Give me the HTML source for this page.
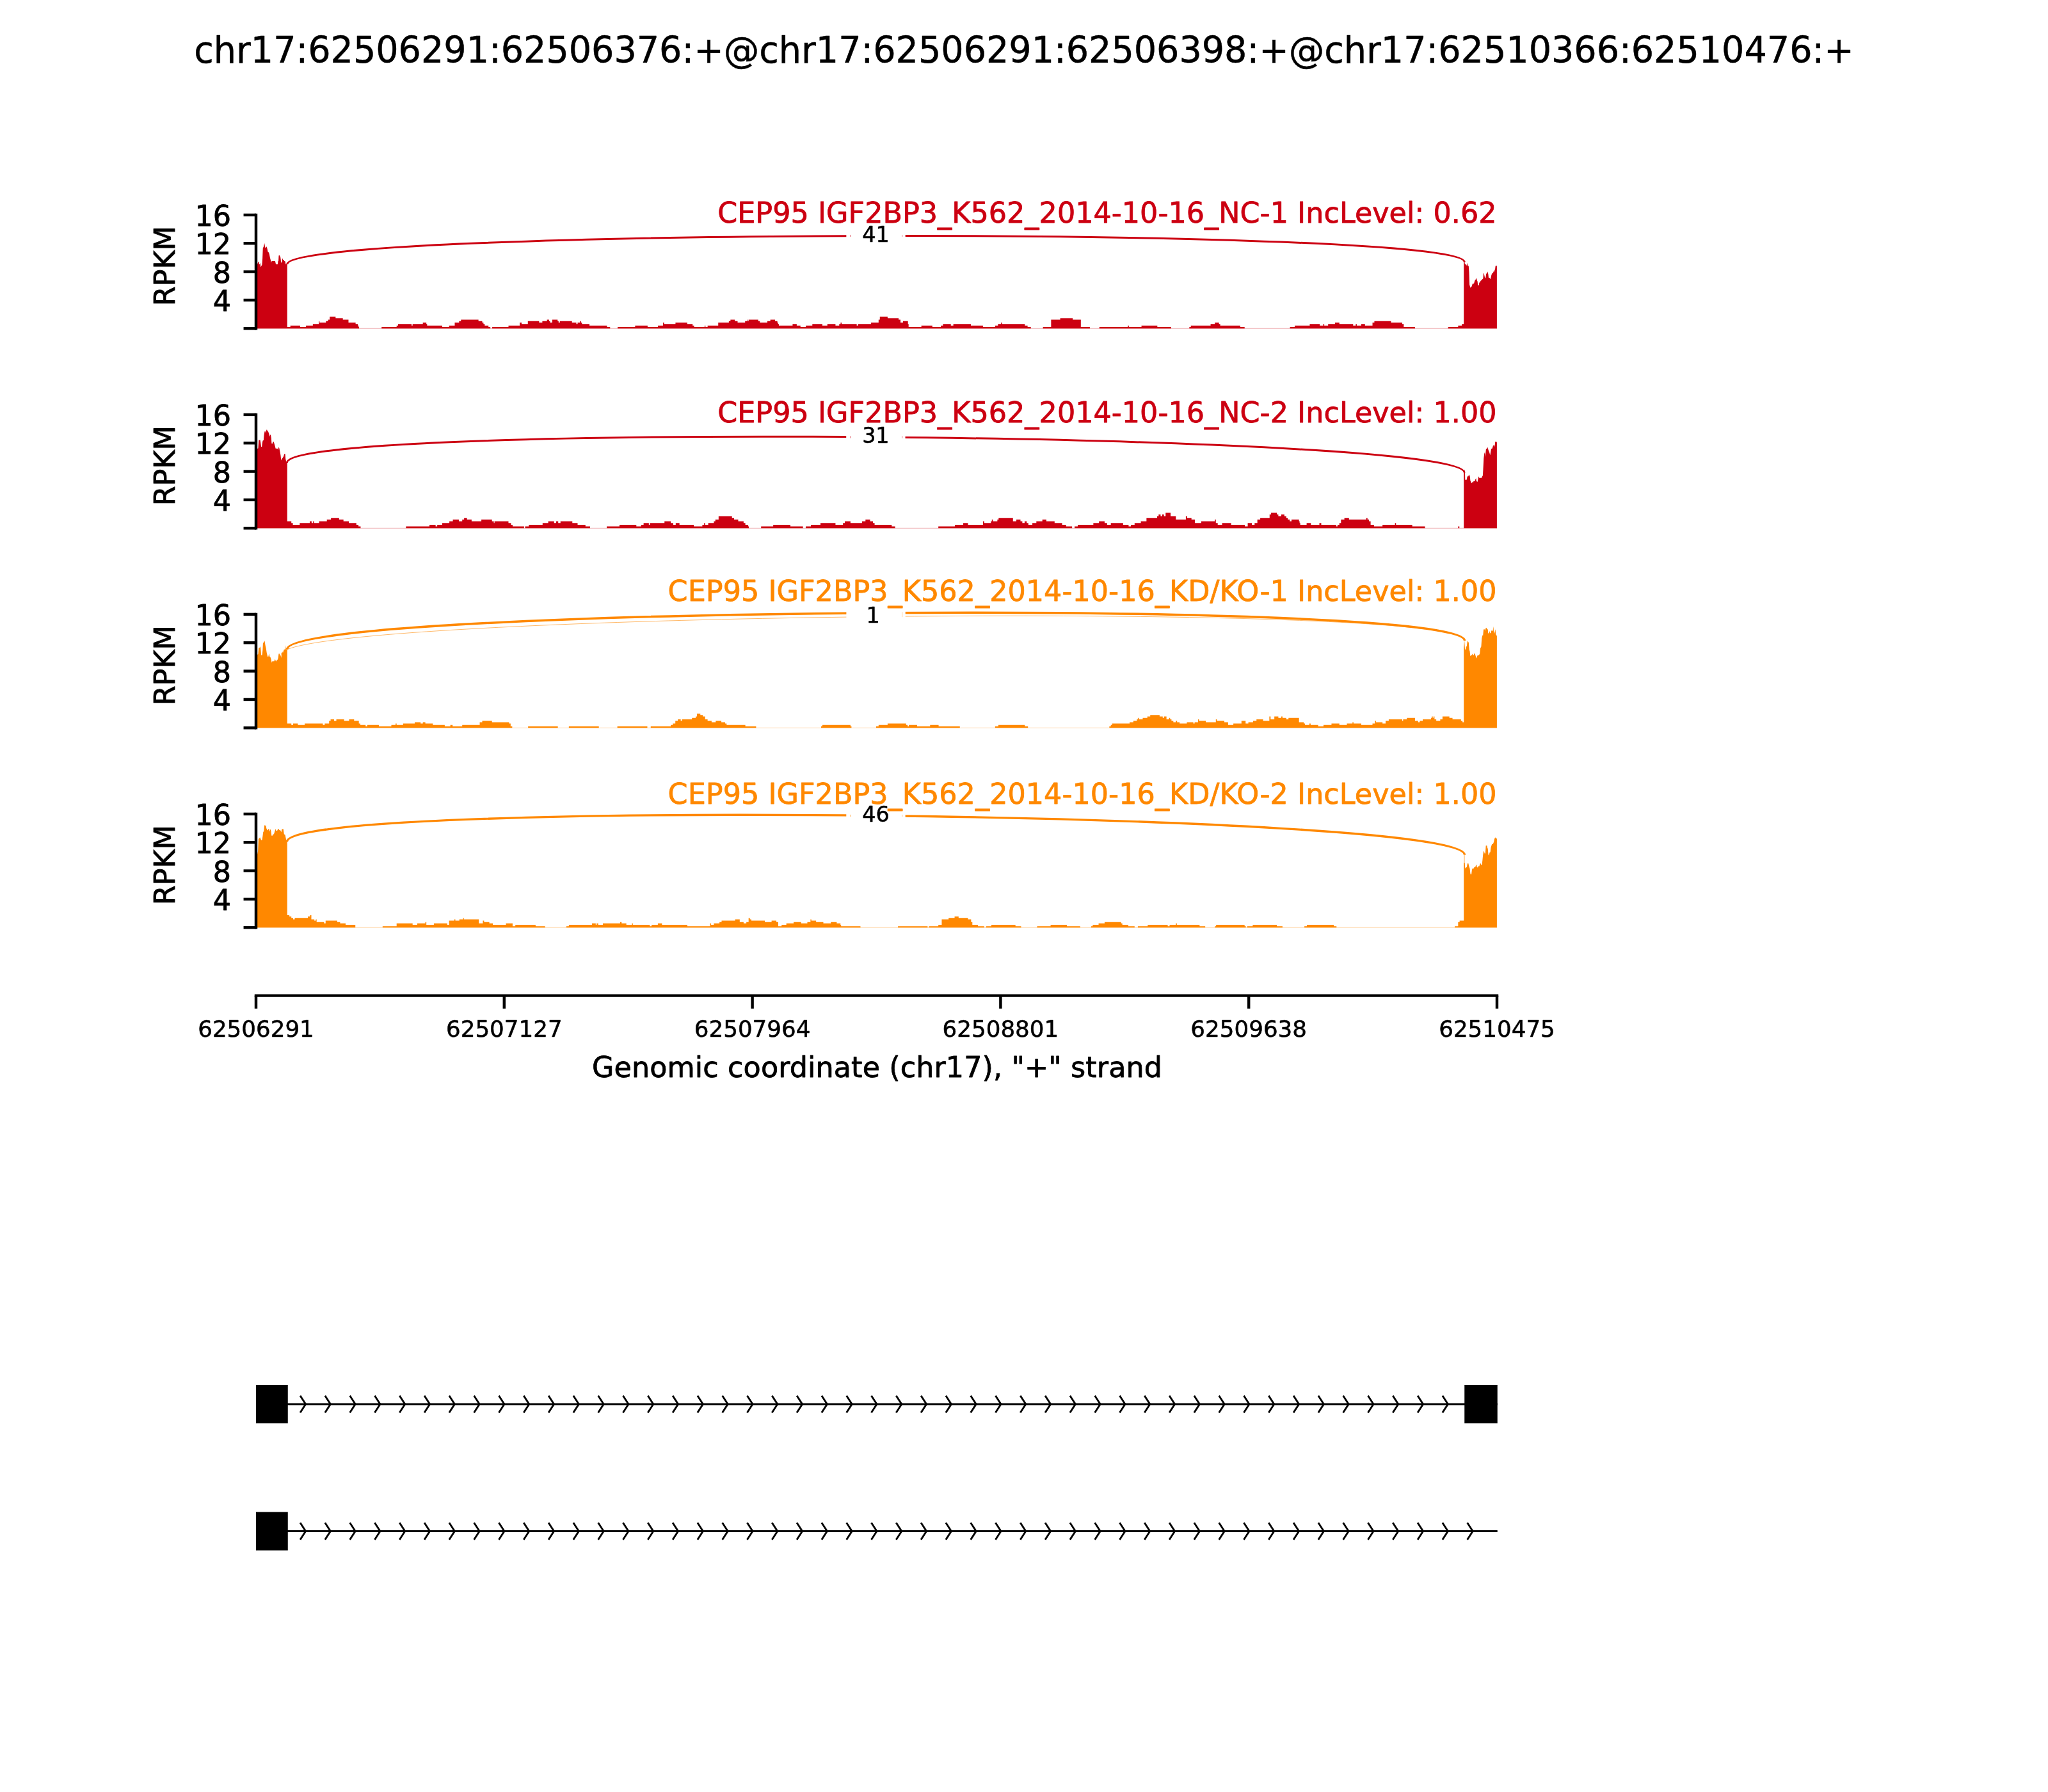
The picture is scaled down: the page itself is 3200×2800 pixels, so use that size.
<!DOCTYPE html>
<html><head><meta charset="utf-8"><title>Sashimi plot</title>
<style>html,body{margin:0;padding:0;background:#fff}svg{display:block}svg{will-change:transform}text{font-family:'DejaVu Sans','Liberation Sans',sans-serif;}</style></head><body>
<svg width="3200" height="2800" viewBox="0 0 3200 2800">
<rect width="3200" height="2800" fill="#fff"/>
<text transform="translate(1600 98) scale(1 1.02)" font-size="55.56" text-anchor="middle" fill="#000" stroke="#000" stroke-width="0.5" stroke-linejoin="round">chr17:62506291:62506376:+@chr17:62506291:62506398:+@chr17:62510366:62510476:+</text>
<g>
<path d="M400 513.3 L400 412.68 L402.05 412.68 L403.39 409.55 L404.51 408.44 L404.96 412.9 L405.85 412.9 L406.52 410.45 L407.41 417.59 L408.3 415.8 L409.42 413.57 L410.09 404.64 L410.76 387.68 L411.88 385.45 L413.21 380.09 L414.33 386.79 L415.67 387.01 L416.56 385 L417.68 389.02 L418.57 393.48 L419.91 394.38 L420.8 397.05 L421.92 402.86 L423.26 407.77 L423.48 410.45 L424.6 407.99 L429.96 407.99 L431.07 412.9 L433.97 412.9 L434.42 408.21 L435.09 407.77 L435.54 399.29 L436.88 399.06 L438.21 401.96 L439.33 410.45 L440.45 410 L441.34 403.3 L442.23 405.98 L443.57 406.21 L444.24 407.99 L445.58 408.21 L446.47 412.9 L448.57 412.9 L448.8 412.9 L448.79 510.99 L453.67 510.99 L453.67 508.68 L468.91 508.68 L468.91 510.99 L478.09 510.99 L478.09 508.68 L488.83 508.68 L488.83 506.37 L498.2 506.37 L498.2 501.75 L499.18 501.75 L499.18 504.06 L509.34 504.06 L509.34 501.75 L512.66 501.75 L512.66 499.44 L515.2 499.44 L515.2 494.82 L524.38 494.82 L524.38 497.13 L535.7 497.13 L535.7 499.44 L544.49 499.44 L544.49 504.06 L555.62 504.06 L555.62 506.37 L559.14 506.37 L559.14 508.68 L560.31 508.68 L560.31 510.99 L561.09 510.99 L561.09 513.3 L596.25 513.3 L596.25 510.99 L619.69 510.99 L619.69 508.68 L622.03 508.68 L622.03 506.37 L643.12 506.37 L643.12 508.68 L644.69 508.68 L644.69 506.37 L660.7 506.37 L660.7 504.06 L666.17 504.06 L666.17 506.37 L667.34 506.37 L667.34 508.68 L690.98 508.68 L690.98 510.99 L701.72 510.99 L701.72 508.68 L710.51 508.68 L710.51 504.06 L717.34 504.06 L717.34 501.75 L720.27 501.75 L720.27 499.44 L747.62 499.44 L747.62 501.75 L753.48 501.75 L753.48 504.06 L755.43 504.06 L755.43 506.37 L757.38 506.37 L757.38 508.68 L763.24 508.68 L763.24 510.99 L766.17 510.99 L766.17 513.3 L769.1 513.3 L769.1 510.99 L794.49 510.99 L794.49 508.68 L812.07 508.68 L812.07 504.06 L815 504.06 L815 506.37 L824.77 506.37 L824.77 501.75 L840 501.75 L840 501.75 L842.34 501.75 L842.34 504.06 L847.42 504.06 L847.42 501.75 L854.65 501.75 L854.65 499.44 L857.97 499.44 L857.97 501.75 L859.53 501.75 L859.53 504.06 L862.85 504.06 L862.85 499.44 L871.25 499.44 L871.25 501.75 L872.81 501.75 L872.81 504.06 L874.77 504.06 L874.77 501.75 L893.71 501.75 L893.71 504.06 L900.55 504.06 L900.55 506.37 L902.5 506.37 L902.5 504.06 L906.41 504.06 L906.41 501.75 L907.97 501.75 L907.97 504.06 L909.34 504.06 L909.34 506.37 L921.05 506.37 L921.05 508.68 L948.4 508.68 L948.4 510.99 L953.28 510.99 L953.28 513.3 L965 513.3 L965 510.99 L992.34 510.99 L992.34 508.68 L1011.88 508.68 L1011.88 510.99 L1027.89 510.99 L1027.89 508.68 L1035.9 508.68 L1035.9 504.06 L1037.66 504.06 L1037.66 506.37 L1055.43 506.37 L1055.43 504.06 L1073.79 504.06 L1073.79 506.37 L1082.19 506.37 L1082.19 508.68 L1084.53 508.68 L1084.53 510.99 L1100.94 510.99 L1100.94 508.68 L1102.3 508.68 L1102.3 510.99 L1105.62 510.99 L1105.62 508.68 L1122.23 508.68 L1122.23 504.06 L1138.83 504.06 L1138.83 501.75 L1141.37 501.75 L1141.37 499.44 L1148.2 499.44 L1148.2 501.75 L1152.5 501.75 L1152.5 504.06 L1164.22 504.06 L1164.22 501.75 L1168.12 501.75 L1168.12 499.44 L1168.91 499.44 L1168.91 501.75 L1169.69 501.75 L1169.69 499.44 L1184.73 499.44 L1184.73 501.75 L1187.27 501.75 L1187.27 504.06 L1198.98 504.06 L1198.98 501.75 L1203.67 501.75 L1203.67 499.44 L1211.09 499.44 L1211.09 501.75 L1214.61 501.75 L1214.61 504.06 L1215.78 504.06 L1215.78 506.37 L1216.95 506.37 L1216.95 508.68 L1238.44 508.68 L1238.44 506.37 L1240 506.37 L1240 506.37 L1244.88 506.37 L1244.88 508.68 L1250.74 508.68 L1250.74 510.99 L1259.14 510.99 L1259.14 508.68 L1269.3 508.68 L1269.3 506.37 L1284.92 506.37 L1284.92 508.68 L1292.73 508.68 L1292.73 506.37 L1305.43 506.37 L1305.43 508.68 L1311.29 508.68 L1311.29 506.37 L1313.44 506.37 L1313.44 504.06 L1315 504.06 L1315 506.37 L1338.63 506.37 L1338.63 508.68 L1340.59 508.68 L1340.59 506.37 L1361.09 506.37 L1361.09 504.06 L1372.81 504.06 L1372.81 499.44 L1374.77 499.44 L1374.77 494.82 L1386.88 494.82 L1386.88 497.13 L1404.06 497.13 L1404.06 499.44 L1406.99 499.44 L1406.99 504.06 L1410.9 504.06 L1410.9 501.75 L1418.71 501.75 L1418.71 506.37 L1419.69 506.37 L1419.69 510.99 L1439.61 510.99 L1439.61 508.68 L1456.8 508.68 L1456.8 510.99 L1470.08 510.99 L1470.08 508.68 L1473.4 508.68 L1473.4 506.37 L1485.7 506.37 L1485.7 508.68 L1489.61 508.68 L1489.61 506.37 L1516.95 506.37 L1516.95 508.68 L1535.9 508.68 L1535.9 510.99 L1554.84 510.99 L1554.84 508.68 L1559.34 508.68 L1559.34 506.37 L1564.22 506.37 L1564.22 504.06 L1565.78 504.06 L1565.78 506.37 L1601.33 506.37 L1601.33 508.68 L1605.62 508.68 L1605.62 510.99 L1610.7 510.99 L1610.7 513.3 L1629.65 513.3 L1629.65 510.99 L1640 510.99 L1640 510.99 L1642.34 510.99 L1642.34 499.44 L1656.6 499.44 L1656.6 497.13 L1676.13 497.13 L1676.13 499.44 L1688.83 499.44 L1688.83 510.99 L1702.89 510.99 L1702.89 513.3 L1717.73 513.3 L1717.73 510.99 L1762.27 510.99 L1762.27 508.68 L1763.83 508.68 L1763.83 510.99 L1783.55 510.99 L1783.55 508.68 L1808.36 508.68 L1808.36 510.99 L1829.84 510.99 L1829.84 513.3 L1858.36 513.3 L1858.36 510.99 L1860.7 510.99 L1860.7 508.68 L1891.56 508.68 L1891.56 506.37 L1898.2 506.37 L1898.2 504.06 L1904.65 504.06 L1904.65 506.37 L1906.6 506.37 L1906.6 508.68 L1937.85 508.68 L1937.85 510.99 L1944.69 510.99 L1944.69 513.3 L1999.96 513.3 L2000 513.3 L2015.62 513.3 L2015.62 510.99 L2023.05 510.99 L2023.05 508.68 L2046.48 508.68 L2046.48 506.37 L2062.11 506.37 L2062.11 508.68 L2067.58 508.68 L2067.58 506.37 L2069.14 506.37 L2069.14 508.68 L2075.2 508.68 L2075.2 506.37 L2085.94 506.37 L2085.94 504.06 L2092.77 504.06 L2092.77 506.37 L2114.26 506.37 L2114.26 508.68 L2118.36 508.68 L2118.36 506.37 L2119.92 506.37 L2119.92 508.68 L2126.95 508.68 L2126.95 506.37 L2132.81 506.37 L2132.81 508.68 L2144.53 508.68 L2144.53 504.06 L2147.46 504.06 L2147.46 501.75 L2173.44 501.75 L2173.44 504.06 L2191.02 504.06 L2191.02 506.37 L2193.36 506.37 L2193.36 510.99 L2210.94 510.99 L2210.94 513.3 L2262.7 513.3 L2262.7 510.99 L2278.32 510.99 L2278.32 508.68 L2284.18 508.68 L2284.18 506.37 L2287.11 506.37 L2287.2 506.37 L2287.2 409.46 L2287.41 409.46 L2288.3 408.57 L2288.97 413.04 L2290.54 413.04 L2291.43 415.27 L2292.54 410.8 L2293.21 414.82 L2294.78 415.71 L2295.45 424.64 L2296.12 444.73 L2297.46 449.87 L2298.35 448.3 L2299.46 447.86 L2300.8 443.39 L2303.04 442.95 L2304.38 438.48 L2305.71 436.7 L2306.83 434.24 L2307.72 438.04 L2308.62 439.82 L2309.29 446.07 L2310.85 445.4 L2311.29 441.38 L2312.63 441.16 L2313.3 438.93 L2314.64 438.04 L2316.43 436.03 L2317.32 435.36 L2317.99 427.32 L2318.66 426.88 L2319.55 431.34 L2320.45 434.91 L2321.34 433.57 L2322.23 427.77 L2323.57 426.65 L2324.46 424.2 L2325.36 428.21 L2326.03 434.02 L2327.59 434.24 L2328.48 436.25 L2329.38 434.24 L2330.27 430 L2331.38 427.1 L2332.95 426.88 L2333.39 424.2 L2334.51 424.87 L2335.4 421.96 L2336.07 420.4 L2336.74 415.49 L2338.66 415.27 L2338.9 415.27 L2338.9 513.3Z" fill="#CC0011"/>
<line x1="400" y1="513.3" x2="2339" y2="513.3" stroke="#CC0011" stroke-width="0.7" opacity="0.45"/>
<path d="M448.7 412.9 C448.7 356 2288.3 352.6 2288.3 409.5" fill="none" stroke="#CC0011" stroke-width="3"/>
<rect x="1322.35" y="327.52" width="92.3" height="82" fill="#fff"/>
<text transform="translate(1368.5 378)" font-size="33.33" text-anchor="middle" fill="#000" stroke="#000" stroke-width="0.55" stroke-linejoin="round">41</text>
<rect x="1328.1" y="366.92" width="0.9" height="3.2" fill="#CC0011" opacity="0.6"/>
<rect x="1409.2" y="366.92" width="0.9" height="3.2" fill="#CC0011" opacity="0.6"/>
<line x1="400" y1="335.9" x2="400" y2="513.3" stroke="#000" stroke-width="4.44" stroke-linecap="square"/>
<line x1="380.56" y1="513.3" x2="400" y2="513.3" stroke="#000" stroke-width="4.44"/>
<line x1="380.56" y1="468.95" x2="400" y2="468.95" stroke="#000" stroke-width="4.44"/>
<text transform="translate(361.1 486.05) scale(1 0.98)" font-size="44.44" text-anchor="end" fill="#000" stroke="#000" stroke-width="0.8" stroke-linejoin="round">4</text>
<line x1="380.56" y1="424.6" x2="400" y2="424.6" stroke="#000" stroke-width="4.44"/>
<text transform="translate(361.1 441.7) scale(1 0.98)" font-size="44.44" text-anchor="end" fill="#000" stroke="#000" stroke-width="0.8" stroke-linejoin="round">8</text>
<line x1="380.56" y1="380.25" x2="400" y2="380.25" stroke="#000" stroke-width="4.44"/>
<text transform="translate(361.1 397.35) scale(1 0.98)" font-size="44.44" text-anchor="end" fill="#000" stroke="#000" stroke-width="0.8" stroke-linejoin="round">12</text>
<line x1="380.56" y1="335.9" x2="400" y2="335.9" stroke="#000" stroke-width="4.44"/>
<text transform="translate(361.1 353) scale(1 0.98)" font-size="44.44" text-anchor="end" fill="#000" stroke="#000" stroke-width="0.8" stroke-linejoin="round">16</text>
<text transform="translate(273 415.7) rotate(-90)" font-size="44.44" text-anchor="middle" fill="#000" stroke="#000" stroke-width="0.8" stroke-linejoin="round">RPKM</text>
<text transform="translate(2338.5 348) scale(1 0.98)" font-size="44.44" text-anchor="end" fill="#CC0011" textLength="1217.3" lengthAdjust="spacing" stroke="#CC0011" stroke-width="0.8" stroke-linejoin="round">CEP95 IGF2BP3_K562_2014-10-16_NC-1 IncLevel: 0.62</text>
</g>
<g>
<path d="M400 825.3 L400 701.07 L402.05 701.07 L403.39 700.62 L404.29 687.68 L406.52 687.46 L407.19 691.25 L408.08 697.95 L409.2 697.95 L409.64 693.48 L410.54 688.57 L411.88 688.12 L412.54 680.09 L413.44 674.29 L414.55 673.84 L415.45 676.74 L416.34 671.61 L417.23 671.38 L417.9 673.39 L419.02 674.29 L420.36 677.86 L421.25 682.32 L422.14 679.2 L423.04 679.64 L423.93 685 L424.38 693.04 L425.94 693.04 L426.38 690.36 L427.72 690.36 L428.84 693.93 L429.96 697.95 L430.62 700.85 L433.97 701.07 L434.64 703.3 L435.31 698.39 L436.43 700.62 L437.32 704.64 L438.44 711.34 L439.33 719.38 L440.22 717.14 L441.79 715.36 L443.12 713.12 L444.24 709.33 L445.58 709.11 L446.25 717.14 L447.37 721.61 L448.57 722.95 L448.8 722.95 L448.79 814.54 L455.23 814.54 L455.23 817.23 L457.58 817.23 L457.58 819.92 L468.32 819.92 L468.32 817.23 L483.95 817.23 L483.95 814.54 L486.88 814.54 L486.88 817.23 L489.22 817.23 L489.22 814.54 L490.78 814.54 L490.78 817.23 L498.59 817.23 L498.59 814.54 L510.7 814.54 L510.7 811.85 L517.15 811.85 L517.15 809.16 L529.84 809.16 L529.84 811.85 L536.68 811.85 L536.68 814.54 L545.08 814.54 L545.08 817.23 L556.8 817.23 L556.8 819.92 L560.12 819.92 L560.12 822.61 L563.44 822.61 L563.44 825.3 L634.34 825.3 L634.34 822.61 L671.05 822.61 L671.05 819.92 L680.62 819.92 L680.62 822.61 L683.16 822.61 L683.16 819.92 L690.98 819.92 L690.98 817.23 L702.11 817.23 L702.11 814.54 L707.58 814.54 L707.58 811.85 L716.95 811.85 L716.95 814.54 L722.23 814.54 L722.23 811.85 L725.16 811.85 L725.16 809.16 L729.65 809.16 L729.65 811.85 L736.88 811.85 L736.88 814.54 L752.11 814.54 L752.11 811.85 L768.71 811.85 L768.71 814.54 L771.64 814.54 L771.64 817.23 L772.62 817.23 L772.62 814.54 L794.49 814.54 L794.49 817.23 L798.4 817.23 L798.4 819.92 L800.94 819.92 L800.94 822.61 L818.91 822.61 L818.91 825.3 L820.47 825.3 L820.47 822.61 L826.33 822.61 L826.33 819.92 L840 819.92 L840 819.92 L847.81 819.92 L847.81 817.23 L856.6 817.23 L856.6 814.54 L865.78 814.54 L865.78 817.23 L868.91 817.23 L868.91 814.54 L872.23 814.54 L872.23 817.23 L875.74 817.23 L875.74 814.54 L894.3 814.54 L894.3 817.23 L902.5 817.23 L902.5 819.92 L914.8 819.92 L914.8 822.61 L922.03 822.61 L922.03 825.3 L948.01 825.3 L948.01 822.61 L967.93 822.61 L967.93 819.92 L994.3 819.92 L994.3 822.61 L1001.72 822.61 L1001.72 819.92 L1005.62 819.92 L1005.62 817.23 L1013.83 817.23 L1013.83 819.92 L1015.39 819.92 L1015.39 817.23 L1038.24 817.23 L1038.24 814.54 L1048.01 814.54 L1048.01 817.23 L1051.91 817.23 L1051.91 819.92 L1055.82 819.92 L1055.82 817.23 L1061.68 817.23 L1061.68 819.92 L1084.14 819.92 L1084.14 822.61 L1097.42 822.61 L1097.42 819.92 L1100.16 819.92 L1100.16 817.23 L1101.72 817.23 L1101.72 819.92 L1106.6 819.92 L1106.6 817.23 L1115.39 817.23 L1115.39 814.54 L1117.73 814.54 L1117.73 811.85 L1122.81 811.85 L1122.81 806.47 L1143.71 806.47 L1143.71 809.16 L1147.03 809.16 L1147.03 811.85 L1153.48 811.85 L1153.48 814.54 L1161.88 814.54 L1161.88 817.23 L1164.61 817.23 L1164.61 819.92 L1169.1 819.92 L1169.1 822.61 L1170.08 822.61 L1170.08 825.3 L1189.22 825.3 L1189.22 822.61 L1208.16 822.61 L1208.16 819.92 L1234.92 819.92 L1234.92 822.61 L1240 822.61 L1240 822.61 L1254.65 822.61 L1254.65 825.3 L1258.95 825.3 L1258.95 822.61 L1266.95 822.61 L1266.95 819.92 L1281.99 819.92 L1281.99 817.23 L1305.43 817.23 L1305.43 819.92 L1317.15 819.92 L1317.15 817.23 L1320.08 817.23 L1320.08 814.54 L1328.87 814.54 L1328.87 817.23 L1347.03 817.23 L1347.03 814.54 L1352.3 814.54 L1352.3 811.85 L1359.53 811.85 L1359.53 814.54 L1364.02 814.54 L1364.02 817.23 L1366.56 817.23 L1366.56 819.92 L1393.32 819.92 L1393.32 822.61 L1398.59 822.61 L1398.59 825.3 L1466.17 825.3 L1466.17 822.61 L1491.95 822.61 L1491.95 819.92 L1505.04 819.92 L1505.04 817.23 L1512.46 817.23 L1512.46 819.92 L1535.9 819.92 L1535.9 814.54 L1537.85 814.54 L1537.85 817.23 L1548.2 817.23 L1548.2 814.54 L1549.77 814.54 L1549.77 811.85 L1551.33 811.85 L1551.33 814.54 L1558.36 814.54 L1558.36 811.85 L1560.31 811.85 L1560.31 809.16 L1582.77 809.16 L1582.77 814.54 L1588.05 814.54 L1588.05 811.85 L1594.49 811.85 L1594.49 814.54 L1597.42 814.54 L1597.42 817.23 L1600.94 817.23 L1600.94 814.54 L1604.26 814.54 L1604.26 817.23 L1606.8 817.23 L1606.8 819.92 L1613.05 819.92 L1613.05 817.23 L1619.3 817.23 L1619.3 814.54 L1628.67 814.54 L1628.67 811.85 L1634.92 811.85 L1634.92 814.54 L1640 814.54 L1640 814.54 L1647.81 814.54 L1647.81 817.23 L1659.53 817.23 L1659.53 819.92 L1665.78 819.92 L1665.78 822.61 L1675.16 822.61 L1675.16 825.3 L1679.06 825.3 L1679.06 822.61 L1683.95 822.61 L1683.95 819.92 L1708.36 819.92 L1708.36 817.23 L1717.15 817.23 L1717.15 814.54 L1725.94 814.54 L1725.94 817.23 L1729.84 817.23 L1729.84 819.92 L1735.7 819.92 L1735.7 817.23 L1754.84 817.23 L1754.84 819.92 L1763.44 819.92 L1763.44 822.61 L1766.95 822.61 L1766.95 819.92 L1772.81 819.92 L1772.81 817.23 L1782.58 817.23 L1782.58 814.54 L1791.37 814.54 L1791.37 809.16 L1807.97 809.16 L1807.97 806.47 L1810.31 806.47 L1810.31 803.78 L1813.44 803.78 L1813.44 806.47 L1815.78 806.47 L1815.78 803.78 L1818.71 803.78 L1818.71 806.47 L1821.25 806.47 L1821.25 801.09 L1829.06 801.09 L1829.06 806.47 L1837.27 806.47 L1837.27 811.85 L1852.89 811.85 L1852.89 806.47 L1854.84 806.47 L1854.84 809.16 L1861.68 809.16 L1861.68 811.85 L1866.95 811.85 L1866.95 817.23 L1876.91 817.23 L1876.91 814.54 L1898.2 814.54 L1898.2 811.85 L1899.77 811.85 L1899.77 817.23 L1902.7 817.23 L1902.7 819.92 L1909.53 819.92 L1909.53 817.23 L1923.59 817.23 L1923.59 819.92 L1945.08 819.92 L1945.08 822.61 L1949.57 822.61 L1949.57 817.23 L1956.02 817.23 L1956.02 819.92 L1960.31 819.92 L1960.31 817.23 L1964.61 817.23 L1964.61 811.85 L1969.1 811.85 L1969.1 809.16 L1983.75 809.16 L1983.75 803.78 L1986.09 803.78 L1986.09 801.09 L1995.08 801.09 L1995.08 803.78 L1997.42 803.78 L1997.42 806.47 L1999.96 806.47 L2000 806.47 L2001.95 806.47 L2001.95 803.78 L2006.84 803.78 L2006.84 806.47 L2009.77 806.47 L2009.77 809.16 L2012.11 809.16 L2012.11 811.85 L2015.23 811.85 L2015.23 814.54 L2017.97 814.54 L2017.97 811.85 L2029.69 811.85 L2029.69 814.54 L2030.66 814.54 L2030.66 817.23 L2031.64 817.23 L2031.64 819.92 L2041.6 819.92 L2041.6 817.23 L2048.24 817.23 L2048.24 819.92 L2061.52 819.92 L2061.52 817.23 L2064.45 817.23 L2064.45 819.92 L2087.89 819.92 L2087.89 822.61 L2089.84 822.61 L2089.84 819.92 L2092.77 819.92 L2092.77 817.23 L2095.31 817.23 L2095.31 811.85 L2100.59 811.85 L2100.59 809.16 L2107.81 809.16 L2107.81 811.85 L2134.77 811.85 L2134.77 809.16 L2136.72 809.16 L2136.72 811.85 L2139.06 811.85 L2139.06 814.54 L2141.6 814.54 L2141.6 819.92 L2146.88 819.92 L2146.88 822.61 L2160.16 822.61 L2160.16 819.92 L2179.69 819.92 L2179.69 817.23 L2181.25 817.23 L2181.25 819.92 L2206.64 819.92 L2206.64 822.61 L2226.56 822.61 L2226.56 825.3 L2278.32 825.3 L2278.32 822.61 L2280.27 822.61 L2280.27 825.3 L2287.11 825.3 L2287.2 825.3 L2287.2 738.59 L2287.34 738.59 L2288.18 733.57 L2289.02 738.59 L2289.3 749.75 L2291.81 749.48 L2292.65 744.17 L2294.04 744.45 L2295.44 741.38 L2296.83 744.73 L2297.39 750.87 L2299.06 754.78 L2299.9 754.78 L2300.46 752.54 L2301.29 754.78 L2302.41 751.99 L2304.36 751.71 L2305.2 749.2 L2306.32 747.24 L2306.88 751.71 L2308.55 753.1 L2309.67 747.52 L2310.5 744.17 L2311.34 746.69 L2314.97 746.69 L2316.08 744.17 L2316.92 743.06 L2317.48 733.01 L2318.31 716.27 L2319.15 709.02 L2319.99 706.79 L2320.83 714.04 L2321.38 706.79 L2321.94 701.21 L2323.62 701.21 L2324.45 698.42 L2325.57 702.88 L2326.96 706.23 L2328.36 711.25 L2329.2 706.23 L2330.03 701.21 L2331.71 700.65 L2332.54 697.86 L2333.66 695.35 L2334.5 698.42 L2335.89 694.23 L2336.17 690.32 L2338.12 690.04 L2338.68 691.16 L2338.9 691.16 L2338.9 825.3Z" fill="#CC0011"/>
<line x1="400" y1="825.3" x2="2339" y2="825.3" stroke="#CC0011" stroke-width="0.7" opacity="0.45"/>
<path d="M448.5 722.9 C448.5 659.2 2288.2 674.9 2288.2 738.6" fill="none" stroke="#CC0011" stroke-width="3"/>
<rect x="1322.2" y="641.98" width="92.3" height="82" fill="#fff"/>
<text transform="translate(1368.35 692)" font-size="33.33" text-anchor="middle" fill="#000" stroke="#000" stroke-width="0.55" stroke-linejoin="round">31</text>
<rect x="1328.1" y="681.38" width="0.9" height="3.2" fill="#CC0011" opacity="0.6"/>
<rect x="1409.2" y="681.38" width="0.9" height="3.2" fill="#CC0011" opacity="0.6"/>
<line x1="400" y1="647.9" x2="400" y2="825.3" stroke="#000" stroke-width="4.44" stroke-linecap="square"/>
<line x1="380.56" y1="825.3" x2="400" y2="825.3" stroke="#000" stroke-width="4.44"/>
<line x1="380.56" y1="780.95" x2="400" y2="780.95" stroke="#000" stroke-width="4.44"/>
<text transform="translate(361.1 798.05) scale(1 0.98)" font-size="44.44" text-anchor="end" fill="#000" stroke="#000" stroke-width="0.8" stroke-linejoin="round">4</text>
<line x1="380.56" y1="736.6" x2="400" y2="736.6" stroke="#000" stroke-width="4.44"/>
<text transform="translate(361.1 753.7) scale(1 0.98)" font-size="44.44" text-anchor="end" fill="#000" stroke="#000" stroke-width="0.8" stroke-linejoin="round">8</text>
<line x1="380.56" y1="692.25" x2="400" y2="692.25" stroke="#000" stroke-width="4.44"/>
<text transform="translate(361.1 709.35) scale(1 0.98)" font-size="44.44" text-anchor="end" fill="#000" stroke="#000" stroke-width="0.8" stroke-linejoin="round">12</text>
<line x1="380.56" y1="647.9" x2="400" y2="647.9" stroke="#000" stroke-width="4.44"/>
<text transform="translate(361.1 665) scale(1 0.98)" font-size="44.44" text-anchor="end" fill="#000" stroke="#000" stroke-width="0.8" stroke-linejoin="round">16</text>
<text transform="translate(273 727.7) rotate(-90)" font-size="44.44" text-anchor="middle" fill="#000" stroke="#000" stroke-width="0.8" stroke-linejoin="round">RPKM</text>
<text transform="translate(2338.5 660) scale(1 0.98)" font-size="44.44" text-anchor="end" fill="#CC0011" textLength="1217.3" lengthAdjust="spacing" stroke="#CC0011" stroke-width="0.8" stroke-linejoin="round">CEP95 IGF2BP3_K562_2014-10-16_NC-2 IncLevel: 1.00</text>
</g>
<g>
<path d="M400 1137.3 L400 1023.1 L402 1023.1 L403.39 1021.99 L404.23 1012.5 L405.62 1011.94 L406.46 1009.99 L407.3 1013.06 L408.14 1023.66 L409.53 1023.66 L410.37 1015.85 L410.93 1004.69 L412.32 1003.57 L413.44 1001.06 L414.55 1008.04 L415.67 1013.06 L416.79 1020.31 L418.18 1025.89 L419.3 1025.89 L420.41 1021.15 L421.25 1025.89 L422.37 1026.45 L423.48 1029.8 L424.6 1035.38 L425.44 1033.15 L428.5 1033.15 L429.34 1030.36 L430.18 1030.64 L431.02 1033.15 L431.85 1033.15 L432.69 1030.92 L433.81 1030.64 L434.64 1028.12 L435.48 1021.43 L436.6 1021.15 L437.43 1023.66 L438.55 1024.22 L439.39 1028.12 L439.94 1021.99 L440.78 1019.48 L442.73 1019.2 L443.57 1015.01 L444.97 1014.73 L445.52 1008.04 L446.36 1014.73 L448.43 1014.45 L448.8 1014.45 L448.79 1130.61 L455.23 1130.61 L455.23 1132.84 L457.97 1132.84 L457.97 1130.61 L465.39 1130.61 L465.39 1132.84 L476.13 1132.84 L476.13 1130.61 L504.45 1130.61 L504.45 1132.84 L507.38 1132.84 L507.38 1130.61 L514.22 1130.61 L514.22 1126.15 L516.56 1126.15 L516.56 1123.92 L522.03 1123.92 L522.03 1126.15 L525.55 1126.15 L525.55 1123.92 L537.66 1123.92 L537.66 1126.15 L545.47 1126.15 L545.47 1123.92 L553.28 1123.92 L553.28 1126.15 L560.7 1126.15 L560.7 1130.61 L563.05 1130.61 L563.05 1132.84 L571.25 1132.84 L571.25 1135.07 L573.79 1135.07 L573.79 1132.84 L591.95 1132.84 L591.95 1135.07 L611.48 1135.07 L611.48 1132.84 L618.12 1132.84 L618.12 1130.61 L619.69 1130.61 L619.69 1132.84 L629.84 1132.84 L629.84 1130.61 L648.01 1130.61 L648.01 1128.38 L657.19 1128.38 L657.19 1130.61 L660.7 1130.61 L660.7 1128.38 L664.61 1128.38 L664.61 1130.61 L676.33 1130.61 L676.33 1132.84 L694.88 1132.84 L694.88 1135.07 L703.67 1135.07 L703.67 1132.84 L707.19 1132.84 L707.19 1135.07 L722.23 1135.07 L722.23 1132.84 L749.57 1132.84 L749.57 1128.38 L753.48 1128.38 L753.48 1126.15 L768.71 1126.15 L768.71 1128.38 L795.47 1128.38 L795.47 1130.61 L797.81 1130.61 L797.81 1135.07 L800.35 1135.07 L800.35 1137.3 L825.16 1137.3 L825.16 1135.07 L840 1135.07 L840 1135.07 L871.64 1135.07 L871.64 1137.3 L888.83 1137.3 L888.83 1135.07 L935.7 1135.07 L935.7 1137.3 L964.61 1137.3 L964.61 1135.07 L1011.48 1135.07 L1011.48 1137.3 L1016.76 1137.3 L1016.76 1135.07 L1048.01 1135.07 L1048.01 1132.84 L1051.33 1132.84 L1051.33 1130.61 L1055.23 1130.61 L1055.23 1126.15 L1059.14 1126.15 L1059.14 1123.92 L1063.63 1123.92 L1063.63 1126.15 L1065.59 1126.15 L1065.59 1123.92 L1081.21 1123.92 L1081.21 1121.69 L1087.07 1121.69 L1087.07 1119.46 L1089.02 1119.46 L1089.02 1115 L1094.3 1115 L1094.3 1117.23 L1098.2 1117.23 L1098.2 1119.46 L1101.72 1119.46 L1101.72 1123.92 L1105.62 1123.92 L1105.62 1126.15 L1111.88 1126.15 L1111.88 1128.38 L1118.32 1128.38 L1118.32 1126.15 L1127.11 1126.15 L1127.11 1128.38 L1132.97 1128.38 L1132.97 1130.61 L1135.31 1130.61 L1135.31 1132.84 L1164.61 1132.84 L1164.61 1135.07 L1181.41 1135.07 L1181.41 1137.3 L1240 1137.3 L1240 1137.3 L1282.97 1137.3 L1282.97 1135.07 L1284.92 1135.07 L1284.92 1132.84 L1328.87 1132.84 L1328.87 1135.07 L1330.43 1135.07 L1330.43 1137.3 L1368.91 1137.3 L1368.91 1135.07 L1372.81 1135.07 L1372.81 1132.84 L1386.88 1132.84 L1386.88 1130.61 L1415.78 1130.61 L1415.78 1132.84 L1418.12 1132.84 L1418.12 1135.07 L1420.08 1135.07 L1420.08 1132.84 L1432.97 1132.84 L1432.97 1135.07 L1453.28 1135.07 L1453.28 1132.84 L1466.56 1132.84 L1466.56 1135.07 L1499.77 1135.07 L1499.77 1137.3 L1554.84 1137.3 L1554.84 1135.07 L1559.92 1135.07 L1559.92 1132.84 L1601.33 1132.84 L1601.33 1135.07 L1606.21 1135.07 L1606.21 1137.3 L1640 1137.3 L1640 1137.3 L1733.36 1137.3 L1733.36 1135.07 L1735.7 1135.07 L1735.7 1132.84 L1737.66 1132.84 L1737.66 1130.61 L1765 1130.61 L1765 1128.38 L1770.86 1128.38 L1770.86 1126.15 L1776.33 1126.15 L1776.33 1123.92 L1777.89 1123.92 L1777.89 1121.69 L1779.45 1121.69 L1779.45 1123.92 L1785.51 1123.92 L1785.51 1121.69 L1792.73 1121.69 L1792.73 1119.46 L1797.23 1119.46 L1797.23 1117.23 L1811.88 1117.23 L1811.88 1119.46 L1816.76 1119.46 L1816.76 1121.69 L1818.71 1121.69 L1818.71 1119.46 L1822.62 1119.46 L1822.62 1123.92 L1826.72 1123.92 L1826.72 1121.69 L1828.28 1121.69 L1828.28 1123.92 L1830.43 1123.92 L1830.43 1126.15 L1833.36 1126.15 L1833.36 1128.38 L1837.27 1128.38 L1837.27 1126.15 L1839.22 1126.15 L1839.22 1128.38 L1843.12 1128.38 L1843.12 1130.61 L1854.45 1130.61 L1854.45 1128.38 L1864.61 1128.38 L1864.61 1130.61 L1866.56 1130.61 L1866.56 1128.38 L1872.03 1128.38 L1872.03 1123.92 L1873.4 1123.92 L1873.4 1126.15 L1884.14 1126.15 L1884.14 1128.38 L1899.77 1128.38 L1899.77 1123.92 L1901.33 1123.92 L1901.33 1126.15 L1913.05 1126.15 L1913.05 1128.38 L1918.91 1128.38 L1918.91 1132.84 L1927.11 1132.84 L1927.11 1130.61 L1939.8 1130.61 L1939.8 1126.15 L1946.25 1126.15 L1946.25 1130.61 L1950.55 1130.61 L1950.55 1128.38 L1957.97 1128.38 L1957.97 1126.15 L1963.24 1126.15 L1963.24 1123.92 L1973.59 1123.92 L1973.59 1126.15 L1983.36 1126.15 L1983.36 1119.46 L1985.31 1119.46 L1985.31 1123.92 L1991.17 1123.92 L1991.17 1119.46 L1997.42 1119.46 L1997.42 1121.69 L1999.96 1121.69 L2000 1121.69 L2001.95 1121.69 L2001.95 1119.46 L2003.91 1119.46 L2003.91 1121.69 L2009.77 1121.69 L2009.77 1123.92 L2013.28 1123.92 L2013.28 1121.69 L2029.69 1121.69 L2029.69 1128.38 L2037.11 1128.38 L2037.11 1130.61 L2039.06 1130.61 L2039.06 1132.84 L2045.9 1132.84 L2045.9 1130.61 L2047.85 1130.61 L2047.85 1132.84 L2059.57 1132.84 L2059.57 1135.07 L2067.97 1135.07 L2067.97 1132.84 L2080.47 1132.84 L2080.47 1130.61 L2092.77 1130.61 L2092.77 1132.84 L2104.49 1132.84 L2104.49 1130.61 L2113.28 1130.61 L2113.28 1128.38 L2114.84 1128.38 L2114.84 1130.61 L2126.95 1130.61 L2126.95 1132.84 L2144.53 1132.84 L2144.53 1130.61 L2148.44 1130.61 L2148.44 1126.15 L2150 1126.15 L2150 1128.38 L2160.16 1128.38 L2160.16 1130.61 L2165.04 1130.61 L2165.04 1126.15 L2169.92 1126.15 L2169.92 1123.92 L2191.02 1123.92 L2191.02 1126.15 L2192.38 1126.15 L2192.38 1123.92 L2198.24 1123.92 L2198.24 1121.69 L2210.94 1121.69 L2210.94 1126.15 L2215.82 1126.15 L2215.82 1128.38 L2218.36 1128.38 L2218.36 1126.15 L2223.05 1126.15 L2223.05 1123.92 L2235.94 1123.92 L2235.94 1121.69 L2237.11 1121.69 L2237.11 1119.46 L2238.67 1119.46 L2238.67 1121.69 L2239.84 1121.69 L2239.84 1119.46 L2241.41 1119.46 L2241.41 1123.92 L2244.14 1123.92 L2244.14 1126.15 L2250.39 1126.15 L2250.39 1123.92 L2253.91 1123.92 L2253.91 1119.46 L2264.65 1119.46 L2264.65 1121.69 L2269.53 1121.69 L2269.53 1123.92 L2282.81 1123.92 L2282.81 1126.15 L2285.16 1126.15 L2285.16 1128.38 L2287.11 1128.38 L2287.2 1128.38 L2287.2 1010.27 L2287.34 1010.27 L2288.07 1000.5 L2289.02 1014.73 L2290.13 1014.73 L2290.69 1010.83 L2291.81 1009.71 L2292.65 1003.57 L2293.48 1001.34 L2294.88 1004.13 L2295.71 1015.29 L2296.55 1017.52 L2297.39 1025.33 L2298.5 1023.94 L2299.62 1023.66 L2300.46 1021.15 L2301.29 1023.66 L2302.69 1023.66 L2303.25 1021.15 L2304.64 1021.15 L2305.76 1025.33 L2307.43 1028.68 L2308.27 1024.5 L2309.11 1023.94 L2310.78 1023.66 L2312.18 1021.43 L2313.01 1013.06 L2314.41 1010.27 L2315.25 997.43 L2316.36 992.41 L2317.2 992.97 L2318.04 983.48 L2319.71 983.2 L2320.27 985.71 L2321.38 981.81 L2322.5 980.69 L2323.62 982.92 L2324.73 983.48 L2325.29 989.62 L2326.69 989.62 L2327.52 985.71 L2328.36 989.62 L2329.48 989.06 L2330.31 985.16 L2331.71 985.16 L2332.54 986.27 L2333.38 978.46 L2334.22 990.18 L2335.33 987.95 L2336.45 983.2 L2337.29 991.29 L2338.4 992.97 L2338.68 993.53 L2338.9 993.53 L2338.9 1137.3Z" fill="#FF8800"/>
<line x1="400" y1="1137.3" x2="2339" y2="1137.3" stroke="#FF8800" stroke-width="0.7" opacity="0.45"/>
<path d="M448.6 1014.5 C448.6 947.8 2288.5 934.3 2288.5 1001" fill="none" stroke="#FF8800" stroke-width="3.5"/>
<path d="M439.5 1022.5 C439.5 958.3 2288.5 936.8 2288.5 1001" fill="none" stroke="#FF8800" stroke-width="0.6"/>
<rect x="1322.4" y="916.73" width="92.3" height="82" fill="#fff"/>
<rect x="1409.2" y="956.23" width="0.9" height="8" fill="#FF8800" opacity="0.45"/>
<rect x="1328.45" y="922.6" width="71.1" height="82" fill="#fff"/>
<text transform="translate(1364 973)" font-size="33.33" text-anchor="middle" fill="#000" stroke="#000" stroke-width="0.55" stroke-linejoin="round">1</text>
<line x1="400" y1="959.9" x2="400" y2="1137.3" stroke="#000" stroke-width="4.44" stroke-linecap="square"/>
<line x1="380.56" y1="1137.3" x2="400" y2="1137.3" stroke="#000" stroke-width="4.44"/>
<line x1="380.56" y1="1092.95" x2="400" y2="1092.95" stroke="#000" stroke-width="4.44"/>
<text transform="translate(361.1 1110.05) scale(1 0.98)" font-size="44.44" text-anchor="end" fill="#000" stroke="#000" stroke-width="0.8" stroke-linejoin="round">4</text>
<line x1="380.56" y1="1048.6" x2="400" y2="1048.6" stroke="#000" stroke-width="4.44"/>
<text transform="translate(361.1 1065.7) scale(1 0.98)" font-size="44.44" text-anchor="end" fill="#000" stroke="#000" stroke-width="0.8" stroke-linejoin="round">8</text>
<line x1="380.56" y1="1004.25" x2="400" y2="1004.25" stroke="#000" stroke-width="4.44"/>
<text transform="translate(361.1 1021.35) scale(1 0.98)" font-size="44.44" text-anchor="end" fill="#000" stroke="#000" stroke-width="0.8" stroke-linejoin="round">12</text>
<line x1="380.56" y1="959.9" x2="400" y2="959.9" stroke="#000" stroke-width="4.44"/>
<text transform="translate(361.1 977) scale(1 0.98)" font-size="44.44" text-anchor="end" fill="#000" stroke="#000" stroke-width="0.8" stroke-linejoin="round">16</text>
<text transform="translate(273 1039.7) rotate(-90)" font-size="44.44" text-anchor="middle" fill="#000" stroke="#000" stroke-width="0.8" stroke-linejoin="round">RPKM</text>
<text transform="translate(2338.5 939) scale(1 0.98)" font-size="44.44" text-anchor="end" fill="#FF8800" textLength="1294.9" lengthAdjust="spacing" stroke="#FF8800" stroke-width="0.8" stroke-linejoin="round">CEP95 IGF2BP3_K562_2014-10-16_KD/KO-1 IncLevel: 1.00</text>
</g>
<g>
<path d="M400 1449.3 L400 1335.33 L402 1335.33 L403.11 1329.75 L403.95 1310.78 L405.07 1309.94 L406.18 1308.27 L407.3 1310.78 L408.14 1312.73 L409.53 1312.46 L410.37 1306.88 L411.21 1300.18 L412.32 1298.5 L413.16 1289.02 L414.27 1290.41 L415.39 1289.02 L416.23 1294.32 L417.62 1296.83 L418.74 1297.39 L419.3 1295.16 L420.41 1295.16 L421.53 1299.62 L422.37 1295.16 L423.48 1298.5 L424.32 1305.76 L425.71 1305.76 L426.27 1304.08 L427.95 1303.25 L429.06 1299.9 L430.46 1295.16 L431.57 1297.95 L432.97 1298.23 L434.36 1295.16 L435.48 1295.16 L436.32 1297.11 L438.27 1297.39 L439.39 1300.46 L440.5 1295.44 L442.73 1295.16 L443.85 1303.53 L445.52 1304.36 L446.64 1309.67 L447.48 1313.57 L448.43 1315.25 L448.8 1315.25 L448.79 1429.95 L452.11 1429.95 L452.11 1432.1 L455.23 1432.1 L455.23 1434.25 L457.97 1434.25 L457.97 1436.4 L460.51 1436.4 L460.51 1434.25 L481.02 1434.25 L481.02 1432.1 L484.53 1432.1 L484.53 1429.95 L486.48 1429.95 L486.48 1436.4 L491.17 1436.4 L491.17 1438.55 L493.52 1438.55 L493.52 1436.4 L494.69 1436.4 L494.69 1440.7 L506.41 1440.7 L506.41 1442.85 L508.75 1442.85 L508.75 1438.55 L526.91 1438.55 L526.91 1440.7 L531.41 1440.7 L531.41 1442.85 L540 1442.85 L540 1445 L555.23 1445 L555.23 1449.3 L597.81 1449.3 L597.81 1447.15 L619.69 1447.15 L619.69 1442.85 L644.69 1442.85 L644.69 1445 L651.91 1445 L651.91 1442.85 L664.61 1442.85 L664.61 1440.7 L666.17 1440.7 L666.17 1445 L677.89 1445 L677.89 1442.85 L698.79 1442.85 L698.79 1445 L701.72 1445 L701.72 1438.55 L709.92 1438.55 L709.92 1436.4 L711.48 1436.4 L711.48 1438.55 L717.73 1438.55 L717.73 1436.4 L723.59 1436.4 L723.59 1434.25 L724.77 1434.25 L724.77 1436.4 L748.2 1436.4 L748.2 1442.85 L754.45 1442.85 L754.45 1438.55 L756.41 1438.55 L756.41 1440.7 L764.61 1440.7 L764.61 1442.85 L770.08 1442.85 L770.08 1445 L790.59 1445 L790.59 1442.85 L800.94 1442.85 L800.94 1447.15 L805.23 1447.15 L805.23 1445 L836.88 1445 L836.88 1447.15 L840 1447.15 L840 1447.15 L851.72 1447.15 L851.72 1449.3 L884.92 1449.3 L884.92 1447.15 L888.83 1447.15 L888.83 1445 L924.96 1445 L924.96 1442.85 L930.82 1442.85 L930.82 1445 L932.19 1445 L932.19 1442.85 L934.73 1442.85 L934.73 1445 L941.95 1445 L941.95 1442.85 L968.91 1442.85 L968.91 1440.7 L971.25 1440.7 L971.25 1442.85 L978.67 1442.85 L978.67 1445 L987.46 1445 L987.46 1442.85 L988.83 1442.85 L988.83 1445 L1015.39 1445 L1015.39 1447.15 L1018.12 1447.15 L1018.12 1445 L1027.89 1445 L1027.89 1442.85 L1034.34 1442.85 L1034.34 1445 L1073.98 1445 L1073.98 1447.15 L1109.53 1447.15 L1109.53 1442.85 L1111.09 1442.85 L1111.09 1445 L1115.39 1445 L1115.39 1442.85 L1124.18 1442.85 L1124.18 1440.7 L1127.5 1440.7 L1127.5 1438.55 L1148.59 1438.55 L1148.59 1436.4 L1155.82 1436.4 L1155.82 1440.7 L1161.88 1440.7 L1161.88 1442.85 L1166.17 1442.85 L1166.17 1440.7 L1169.69 1440.7 L1169.69 1434.25 L1171.64 1434.25 L1171.64 1436.4 L1173.98 1436.4 L1173.98 1438.55 L1195.08 1438.55 L1195.08 1440.7 L1205.62 1440.7 L1205.62 1438.55 L1213.05 1438.55 L1213.05 1440.7 L1215.98 1440.7 L1215.98 1447.15 L1221.25 1447.15 L1221.25 1445 L1228.67 1445 L1228.67 1442.85 L1240 1442.85 L1240 1440.7 L1251.72 1440.7 L1251.72 1442.85 L1261.48 1442.85 L1261.48 1440.7 L1266.37 1440.7 L1266.37 1436.4 L1267.73 1436.4 L1267.73 1438.55 L1275.16 1438.55 L1275.16 1440.7 L1286.48 1440.7 L1286.48 1442.85 L1298.2 1442.85 L1298.2 1440.7 L1307.38 1440.7 L1307.38 1442.85 L1313.24 1442.85 L1313.24 1445 L1314.22 1445 L1314.22 1447.15 L1344.49 1447.15 L1344.49 1449.3 L1403.09 1449.3 L1403.09 1447.15 L1449.38 1447.15 L1449.38 1449.3 L1451.33 1449.3 L1451.33 1447.15 L1466.17 1447.15 L1466.17 1445 L1471.45 1445 L1471.45 1436.4 L1482.19 1436.4 L1482.19 1434.25 L1491.56 1434.25 L1491.56 1432.1 L1497.81 1432.1 L1497.81 1434.25 L1512.46 1434.25 L1512.46 1436.4 L1517.34 1436.4 L1517.34 1440.7 L1519.3 1440.7 L1519.3 1445 L1528.09 1445 L1528.09 1447.15 L1537.85 1447.15 L1537.85 1449.3 L1540.78 1449.3 L1540.78 1447.15 L1548.98 1447.15 L1548.98 1445 L1586.68 1445 L1586.68 1447.15 L1595.47 1447.15 L1595.47 1449.3 L1620.47 1449.3 L1620.47 1447.15 L1640 1447.15 L1640 1447.15 L1641.56 1447.15 L1641.56 1445 L1666.95 1445 L1666.95 1447.15 L1687.85 1447.15 L1687.85 1449.3 L1704.84 1449.3 L1704.84 1447.15 L1707.38 1447.15 L1707.38 1445 L1716.56 1445 L1716.56 1442.85 L1725.94 1442.85 L1725.94 1440.7 L1751.72 1440.7 L1751.72 1442.85 L1753.67 1442.85 L1753.67 1445 L1763.05 1445 L1763.05 1447.15 L1772.81 1447.15 L1772.81 1449.3 L1777.89 1449.3 L1777.89 1447.15 L1793.32 1447.15 L1793.32 1445 L1824.57 1445 L1824.57 1447.15 L1827.5 1447.15 L1827.5 1445 L1837.27 1445 L1837.27 1442.85 L1838.83 1442.85 L1838.83 1445 L1874.38 1445 L1874.38 1447.15 L1883.16 1447.15 L1883.16 1449.3 L1898.2 1449.3 L1898.2 1447.15 L1900.16 1447.15 L1900.16 1445 L1944.69 1445 L1944.69 1447.15 L1946.64 1447.15 L1946.64 1449.3 L1948.59 1449.3 L1948.59 1447.15 L1957.38 1447.15 L1957.38 1445 L1995.08 1445 L1995.08 1447.15 L1999.96 1447.15 L2000 1447.15 L2003.91 1447.15 L2003.91 1449.3 L2038.09 1449.3 L2038.09 1447.15 L2041.99 1447.15 L2041.99 1445 L2083.98 1445 L2083.98 1447.15 L2088.28 1447.15 L2088.28 1449.3 L2273.05 1449.3 L2273.05 1447.15 L2278.32 1447.15 L2278.32 1440.7 L2280.66 1440.7 L2280.66 1438.55 L2287.11 1438.55 L2287.2 1438.55 L2287.2 1348.12 L2287.34 1348.12 L2288.74 1348.12 L2289.3 1357.05 L2290.41 1355.38 L2291.81 1355.1 L2292.92 1349.24 L2294.32 1348.96 L2295.44 1353.71 L2296.55 1357.05 L2297.39 1364.87 L2297.95 1366.54 L2299.06 1365.98 L2299.9 1359.29 L2300.74 1357.05 L2302.69 1357.05 L2303.53 1355.1 L2305.2 1354.82 L2306.32 1351.19 L2307.15 1351.47 L2307.71 1355.1 L2309.11 1355.38 L2309.94 1353.15 L2311.34 1353.43 L2312.73 1349.24 L2313.57 1348.96 L2314.41 1351.47 L2315.52 1351.19 L2316.36 1344.22 L2317.2 1335.85 L2318.04 1330.27 L2318.87 1330.27 L2319.71 1333.62 L2320.83 1333.62 L2321.66 1321.34 L2323.34 1321.34 L2324.17 1325.25 L2324.73 1325.8 L2325.57 1335.29 L2326.41 1336.69 L2327.52 1331.94 L2328.64 1331.38 L2329.48 1324.13 L2331.15 1319.11 L2332.82 1318.83 L2334.22 1315.2 L2335.06 1310.74 L2336.45 1308.23 L2337.29 1309.9 L2338.68 1310.18 L2338.9 1310.18 L2338.9 1449.3Z" fill="#FF8800"/>
<line x1="400" y1="1449.3" x2="2339" y2="1449.3" stroke="#FF8800" stroke-width="0.7" opacity="0.45"/>
<rect x="2287.3" y="1336" width="1.4" height="12.6" fill="#FF8800" opacity="0.5"/>
<path d="M448.4 1315.2 C448.4 1247.2 2288.5 1267.8 2288.5 1335.8" fill="none" stroke="#FF8800" stroke-width="3.35"/>
<rect x="1322.3" y="1233.5" width="92.3" height="82" fill="#fff"/>
<text transform="translate(1368.45 1284)" font-size="33.33" text-anchor="middle" fill="#000" stroke="#000" stroke-width="0.55" stroke-linejoin="round">46</text>
<rect x="1328.1" y="1272.9" width="0.9" height="3.2" fill="#FF8800" opacity="0.6"/>
<rect x="1409.2" y="1272.9" width="0.9" height="3.2" fill="#FF8800" opacity="0.6"/>
<line x1="400" y1="1271.9" x2="400" y2="1449.3" stroke="#000" stroke-width="4.44" stroke-linecap="square"/>
<line x1="380.56" y1="1449.3" x2="400" y2="1449.3" stroke="#000" stroke-width="4.44"/>
<line x1="380.56" y1="1404.95" x2="400" y2="1404.95" stroke="#000" stroke-width="4.44"/>
<text transform="translate(361.1 1422.05) scale(1 0.98)" font-size="44.44" text-anchor="end" fill="#000" stroke="#000" stroke-width="0.8" stroke-linejoin="round">4</text>
<line x1="380.56" y1="1360.6" x2="400" y2="1360.6" stroke="#000" stroke-width="4.44"/>
<text transform="translate(361.1 1377.7) scale(1 0.98)" font-size="44.44" text-anchor="end" fill="#000" stroke="#000" stroke-width="0.8" stroke-linejoin="round">8</text>
<line x1="380.56" y1="1316.25" x2="400" y2="1316.25" stroke="#000" stroke-width="4.44"/>
<text transform="translate(361.1 1333.35) scale(1 0.98)" font-size="44.44" text-anchor="end" fill="#000" stroke="#000" stroke-width="0.8" stroke-linejoin="round">12</text>
<line x1="380.56" y1="1271.9" x2="400" y2="1271.9" stroke="#000" stroke-width="4.44"/>
<text transform="translate(361.1 1289) scale(1 0.98)" font-size="44.44" text-anchor="end" fill="#000" stroke="#000" stroke-width="0.8" stroke-linejoin="round">16</text>
<text transform="translate(273 1351.7) rotate(-90)" font-size="44.44" text-anchor="middle" fill="#000" stroke="#000" stroke-width="0.8" stroke-linejoin="round">RPKM</text>
<text transform="translate(2338.5 1256) scale(1 0.98)" font-size="44.44" text-anchor="end" fill="#FF8800" textLength="1294.9" lengthAdjust="spacing" stroke="#FF8800" stroke-width="0.8" stroke-linejoin="round">CEP95 IGF2BP3_K562_2014-10-16_KD/KO-2 IncLevel: 1.00</text>
</g>
<g>
<line x1="400" y1="1555.6" x2="2339" y2="1555.6" stroke="#000" stroke-width="4.44" stroke-linecap="square"/>
<line x1="400" y1="1555.6" x2="400" y2="1575.9" stroke="#000" stroke-width="4.44"/>
<text transform="translate(400 1620)" font-size="35.7" text-anchor="middle" fill="#000" stroke="#000" stroke-width="0.55" stroke-linejoin="round">62506291</text>
<line x1="787.8" y1="1555.6" x2="787.8" y2="1575.9" stroke="#000" stroke-width="4.44"/>
<text transform="translate(787.8 1620)" font-size="35.7" text-anchor="middle" fill="#000" stroke="#000" stroke-width="0.55" stroke-linejoin="round">62507127</text>
<line x1="1175.6" y1="1555.6" x2="1175.6" y2="1575.9" stroke="#000" stroke-width="4.44"/>
<text transform="translate(1175.6 1620)" font-size="35.7" text-anchor="middle" fill="#000" stroke="#000" stroke-width="0.55" stroke-linejoin="round">62507964</text>
<line x1="1563.4" y1="1555.6" x2="1563.4" y2="1575.9" stroke="#000" stroke-width="4.44"/>
<text transform="translate(1563.4 1620)" font-size="35.7" text-anchor="middle" fill="#000" stroke="#000" stroke-width="0.55" stroke-linejoin="round">62508801</text>
<line x1="1951.2" y1="1555.6" x2="1951.2" y2="1575.9" stroke="#000" stroke-width="4.44"/>
<text transform="translate(1951.2 1620)" font-size="35.7" text-anchor="middle" fill="#000" stroke="#000" stroke-width="0.55" stroke-linejoin="round">62509638</text>
<line x1="2339" y1="1555.6" x2="2339" y2="1575.9" stroke="#000" stroke-width="4.44"/>
<text transform="translate(2339 1620)" font-size="35.7" text-anchor="middle" fill="#000" stroke="#000" stroke-width="0.55" stroke-linejoin="round">62510475</text>
<text transform="translate(1370.5 1683) scale(1 0.98)" font-size="44.44" text-anchor="middle" fill="#000" textLength="891.1" lengthAdjust="spacing" stroke="#000" stroke-width="0.8" stroke-linejoin="round">Genomic coordinate (chr17), &quot;+&quot; strand</text>
</g>
<g stroke="#000" stroke-width="2.9" fill="none">
<line x1="400" y1="2194" x2="2339.75" y2="2194"/>
<path d="M469.84 2182 L477.6 2194 L469.84 2206 M508.64 2182 L516.4 2194 L508.64 2206 M547.44 2182 L555.2 2194 L547.44 2206 M586.24 2182 L594 2194 L586.24 2206 M625.04 2182 L632.8 2194 L625.04 2206 M663.84 2182 L671.6 2194 L663.84 2206 M702.64 2182 L710.4 2194 L702.64 2206 M741.44 2182 L749.2 2194 L741.44 2206 M780.24 2182 L788 2194 L780.24 2206 M819.04 2182 L826.8 2194 L819.04 2206 M857.84 2182 L865.6 2194 L857.84 2206 M896.64 2182 L904.4 2194 L896.64 2206 M935.44 2182 L943.2 2194 L935.44 2206 M974.24 2182 L982 2194 L974.24 2206 M1013.04 2182 L1020.8 2194 L1013.04 2206 M1051.84 2182 L1059.6 2194 L1051.84 2206 M1090.64 2182 L1098.4 2194 L1090.64 2206 M1129.44 2182 L1137.2 2194 L1129.44 2206 M1168.24 2182 L1176 2194 L1168.24 2206 M1207.04 2182 L1214.8 2194 L1207.04 2206 M1245.84 2182 L1253.6 2194 L1245.84 2206 M1284.64 2182 L1292.4 2194 L1284.64 2206 M1323.44 2182 L1331.2 2194 L1323.44 2206 M1362.24 2182 L1370 2194 L1362.24 2206 M1401.04 2182 L1408.8 2194 L1401.04 2206 M1439.84 2182 L1447.6 2194 L1439.84 2206 M1478.64 2182 L1486.4 2194 L1478.64 2206 M1517.44 2182 L1525.2 2194 L1517.44 2206 M1556.24 2182 L1564 2194 L1556.24 2206 M1595.04 2182 L1602.8 2194 L1595.04 2206 M1633.84 2182 L1641.6 2194 L1633.84 2206 M1672.64 2182 L1680.4 2194 L1672.64 2206 M1711.44 2182 L1719.2 2194 L1711.44 2206 M1750.24 2182 L1758 2194 L1750.24 2206 M1789.04 2182 L1796.8 2194 L1789.04 2206 M1827.84 2182 L1835.6 2194 L1827.84 2206 M1866.64 2182 L1874.4 2194 L1866.64 2206 M1905.44 2182 L1913.2 2194 L1905.44 2206 M1944.24 2182 L1952 2194 L1944.24 2206 M1983.04 2182 L1990.8 2194 L1983.04 2206 M2021.84 2182 L2029.6 2194 L2021.84 2206 M2060.64 2182 L2068.4 2194 L2060.64 2206 M2099.44 2182 L2107.2 2194 L2099.44 2206 M2138.24 2182 L2146 2194 L2138.24 2206 M2177.04 2182 L2184.8 2194 L2177.04 2206 M2215.84 2182 L2223.6 2194 L2215.84 2206 M2254.64 2182 L2262.4 2194 L2254.64 2206 M2293.44 2182 L2301.2 2194 L2293.44 2206" stroke-linecap="square" stroke-linejoin="round"/>
<rect x="400" y="2164" width="49.75" height="60" fill="#000" stroke="none"/>
<rect x="2288.25" y="2164" width="51.5" height="60" fill="#000" stroke="none"/>
<line x1="400" y1="2392.5" x2="2339.75" y2="2392.5"/>
<path d="M469.84 2380.5 L477.6 2392.5 L469.84 2404.5 M508.64 2380.5 L516.4 2392.5 L508.64 2404.5 M547.44 2380.5 L555.2 2392.5 L547.44 2404.5 M586.24 2380.5 L594 2392.5 L586.24 2404.5 M625.04 2380.5 L632.8 2392.5 L625.04 2404.5 M663.84 2380.5 L671.6 2392.5 L663.84 2404.5 M702.64 2380.5 L710.4 2392.5 L702.64 2404.5 M741.44 2380.5 L749.2 2392.5 L741.44 2404.5 M780.24 2380.5 L788 2392.5 L780.24 2404.5 M819.04 2380.5 L826.8 2392.5 L819.04 2404.5 M857.84 2380.5 L865.6 2392.5 L857.84 2404.5 M896.64 2380.5 L904.4 2392.5 L896.64 2404.5 M935.44 2380.5 L943.2 2392.5 L935.44 2404.5 M974.24 2380.5 L982 2392.5 L974.24 2404.5 M1013.04 2380.5 L1020.8 2392.5 L1013.04 2404.5 M1051.84 2380.5 L1059.6 2392.5 L1051.84 2404.5 M1090.64 2380.5 L1098.4 2392.5 L1090.64 2404.5 M1129.44 2380.5 L1137.2 2392.5 L1129.44 2404.5 M1168.24 2380.5 L1176 2392.5 L1168.24 2404.5 M1207.04 2380.5 L1214.8 2392.5 L1207.04 2404.5 M1245.84 2380.5 L1253.6 2392.5 L1245.84 2404.5 M1284.64 2380.5 L1292.4 2392.5 L1284.64 2404.5 M1323.44 2380.5 L1331.2 2392.5 L1323.44 2404.5 M1362.24 2380.5 L1370 2392.5 L1362.24 2404.5 M1401.04 2380.5 L1408.8 2392.5 L1401.04 2404.5 M1439.84 2380.5 L1447.6 2392.5 L1439.84 2404.5 M1478.64 2380.5 L1486.4 2392.5 L1478.64 2404.5 M1517.44 2380.5 L1525.2 2392.5 L1517.44 2404.5 M1556.24 2380.5 L1564 2392.5 L1556.24 2404.5 M1595.04 2380.5 L1602.8 2392.5 L1595.04 2404.5 M1633.84 2380.5 L1641.6 2392.5 L1633.84 2404.5 M1672.64 2380.5 L1680.4 2392.5 L1672.64 2404.5 M1711.44 2380.5 L1719.2 2392.5 L1711.44 2404.5 M1750.24 2380.5 L1758 2392.5 L1750.24 2404.5 M1789.04 2380.5 L1796.8 2392.5 L1789.04 2404.5 M1827.84 2380.5 L1835.6 2392.5 L1827.84 2404.5 M1866.64 2380.5 L1874.4 2392.5 L1866.64 2404.5 M1905.44 2380.5 L1913.2 2392.5 L1905.44 2404.5 M1944.24 2380.5 L1952 2392.5 L1944.24 2404.5 M1983.04 2380.5 L1990.8 2392.5 L1983.04 2404.5 M2021.84 2380.5 L2029.6 2392.5 L2021.84 2404.5 M2060.64 2380.5 L2068.4 2392.5 L2060.64 2404.5 M2099.44 2380.5 L2107.2 2392.5 L2099.44 2404.5 M2138.24 2380.5 L2146 2392.5 L2138.24 2404.5 M2177.04 2380.5 L2184.8 2392.5 L2177.04 2404.5 M2215.84 2380.5 L2223.6 2392.5 L2215.84 2404.5 M2254.64 2380.5 L2262.4 2392.5 L2254.64 2404.5 M2293.44 2380.5 L2301.2 2392.5 L2293.44 2404.5" stroke-linecap="square" stroke-linejoin="round"/>
<rect x="400" y="2362.5" width="49.75" height="60" fill="#000" stroke="none"/>
</g>
</svg></body></html>
